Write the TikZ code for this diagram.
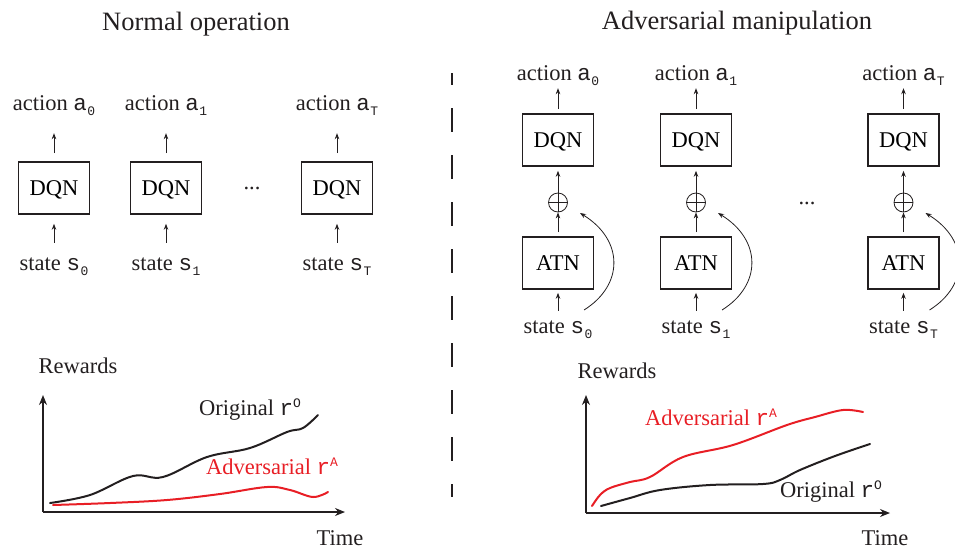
\documentclass[tikz,border=0pt]{standalone}
\usepackage{fontspec}
\setmainfont{Liberation Serif}
\setmonofont{Liberation Mono}
\usetikzlibrary{arrows.meta}
\definecolor{advred}{RGB}{232,30,37}
\definecolor{ink}{RGB}{35,31,32}
\newcommand{\bodyf}{\fontsize{22.5}{26}\selectfont}
\newcommand{\titlef}{\fontsize{26.5}{30}\selectfont}
\newcommand{\tinyf}{\fontsize{13}{13}\selectfont}
\newcommand{\mysub}[2]{\texttt{#1}\hspace{0.5pt}\raisebox{-5pt}{\tinyf\texttt{#2}}}
\newcommand{\mysup}[2]{\texttt{#1}\raisebox{8pt}{\tinyf\texttt{#2}}}
\tikzset{
  box/.style={draw=ink, line width=1.6pt, minimum width=71pt, minimum height=52pt,
    inner sep=0pt, text height=15pt, text depth=0pt, font=\bodyf},
  lbl/.style={inner sep=0pt, anchor=base, font=\bodyf, text=ink},
  ttl/.style={inner sep=0pt, anchor=base, font=\titlef, text=ink},
  arr/.style={draw=ink, line width=0.8pt, -{Stealth[length=6pt,width=4.5pt]}},
  axis/.style={draw=ink, line width=1.3pt, -{Stealth[length=10pt,width=8pt]}},
  curveblk/.style={draw=ink, line width=2pt, line cap=round},
  curvered/.style={draw=advred, line width=2pt, line cap=round},
  opl/.style={circle, draw=ink, line width=0.8pt, minimum size=19pt, inner sep=0pt,
    path picture={\draw[ink, line width=0.8pt] (path picture bounding box.north) -- (path picture bounding box.south)
      (path picture bounding box.west) -- (path picture bounding box.east);}}
}
\begin{document}
\begin{tikzpicture}[x=1pt,y=-1pt]
\useasboundingbox (0,0) rectangle (955,550);
\clip (0,0) rectangle (955,550);

% titles
\node[ttl] (t1) at (196,30) {Normal operation};
\node[ttl] (t2) at (737,29) {Adversarial manipulation};

% separator
\coordinate (sepa) at (452,73);
\coordinate (sepb) at (452,497);
\draw[ink, line width=1.5pt, dash pattern=on 24pt off 23pt, dash phase=12pt] (sepa) -- (sepb);

% normal operation columns
\foreach \x/\i/\s in {54/0/0,166/1/1,337/T/T}{
  \node[box] (ld\i) at (\x,188) {DQN};
  \node[lbl] (la\i) at (\x,110) {action \mysub{a}{\s}};
  \node[lbl] (ls\i) at (\x,270) {state \mysub{s}{\s}};
  \draw[arr] ([yshift=8pt]ld\i.north) -- ([yshift=28pt]ld\i.north);
  \draw[arr] ([yshift=-28pt]ld\i.south) -- ([yshift=-9pt]ld\i.south);
}
\node[inner sep=0pt, font=\bodyf, text=ink] (ldots) at (252,188) {...};

% adversarial columns
\foreach \x/\i/\s in {558/0/0,696/1/1,903.5/T/T}{
  \node[box] (rd\i) at (\x,140) {DQN};
  \node[box] (rt\i) at (\x,263) {ATN};
  \node[opl] (rp\i) at (\x,202.5) {};
  \node[lbl] (ra\i) at (\x,80) {action \mysub{a}{\s}};
  \node[lbl] (rs\i) at (\x,333) {state \mysub{s}{\s}};
  \draw[arr] ([yshift=4pt]rd\i.north) -- ([yshift=25pt]rd\i.north);
  \draw[arr] (rp\i.north) -- ([yshift=-4pt]rd\i.south);
  \draw[arr] ([yshift=4pt]rt\i.north) -- (rp\i.south);
  \draw[arr] ([yshift=-21pt]rt\i.south) -- ([yshift=-3pt]rt\i.south);
  \coordinate (cs\i) at (\x+26,310);
  \coordinate (ce\i) at (\x+22,213);
  \draw[arr] (cs\i) .. controls (\x+66,285) and (\x+66,240) .. (ce\i);
}
\node[inner sep=0pt, font=\bodyf, text=ink] (rdots) at (807,203) {...};

% left plot
\coordinate (lo) at (43,512);
\coordinate (ly) at (43,395);
\coordinate (lx) at (345,512);
\draw[axis] (lo) -- (ly);
\draw[axis] (lo) -- (lx);
\node[lbl] (lrw) at (78,373) {Rewards};
\node[lbl] (ltm) at (340,545) {Time};
\draw[curveblk] plot[smooth, tension=0.6] coordinates {(50,503) (90,495) (133,476) (163,477) (207,457) (250,448) (287,432) (303,428) (318,415)};
\draw[curvered] plot[smooth, tension=0.6] coordinates {(53,505) (110,503) (167,500) (220,494) (267,487) (290,490) (313,497) (328,492)};
\node[lbl] (lorig) at (250,415) {Original \mysup{r}{O}};
\node[lbl, text=advred] (ladv) at (272,474) {Adversarial \mysup{r}{A}};

% right plot
\coordinate (ro) at (586,513);
\coordinate (ry) at (586,395);
\coordinate (rx) at (890,513);
\draw[axis] (ro) -- (ry);
\draw[axis] (ro) -- (rx);
\node[lbl] (rrw) at (617,378) {Rewards};
\node[lbl] (rtm) at (885,545) {Time};
\draw[curvered] plot[smooth, tension=0.6] coordinates {(592,506) (600,495) (610,488) (630,482) (650,477) (683,457) (733,445) (787,425) (815,417) (843,410) (863,412)};
\draw[curveblk] plot[smooth, tension=0.6] coordinates {(601,506) (630,498) (660,490) (710,485) (763,484) (780,480) (800,470) (835,456) (870,444)};
\node[lbl, text=advred] (radv) at (711,425) {Adversarial \mysup{r}{A}};
\node[lbl] (rorig) at (831,497) {Original \mysup{r}{O}};
\end{tikzpicture}
\end{document}
